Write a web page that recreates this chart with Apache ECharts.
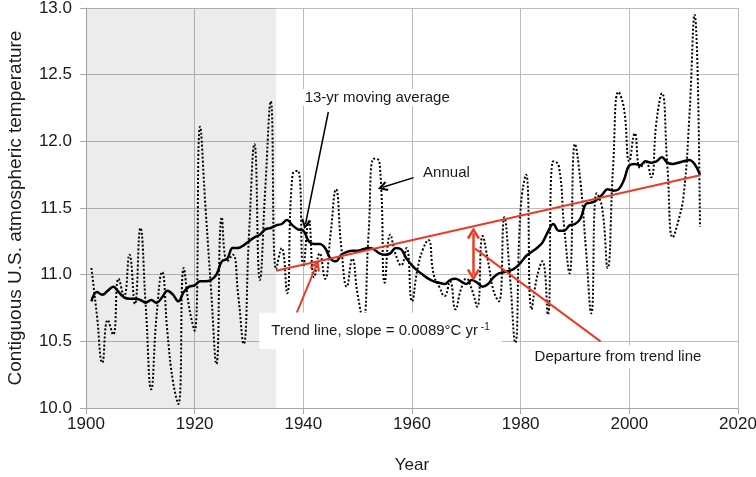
<!DOCTYPE html>
<html><head><meta charset="utf-8">
<script src="https://cdn.jsdelivr.net/npm/echarts@6/dist/echarts.min.js"></script>
<style>html,body{margin:0;padding:0;background:#fff}#c{width:756px;height:477px}</style>
</head><body><div id="c"></div>
<script>
const years = [1901,1902,1903,1904,1905,1906,1907,1908,1909,1910,
1911,1912,1913,1914,1915,1916,1917,1918,1919,1920,
1921,1922,1923,1924,1925,1926,1927,1928,1929,1930,
1931,1932,1933,1934,1935,1936,1937,1938,1939,1940,
1941,1942,1943,1944,1945,1946,1947,1948,1949,1950,
1951,1952,1953,1954,1955,1956,1957,1958,1959,1960,
1961,1962,1963,1964,1965,1966,1967,1968,1969,1970,
1971,1972,1973,1974,1975,1976,1977,1978,1979,1980,
1981,1982,1983,1984,1985,1986,1987,1988,1989,1990,
1991,1992,1993,1994,1995,1996,1997,1998,1999,2000,
2001,2002,2003,2004,2005,2006,2007,2008,2009,2010,
2011,2012,2013];
const annual = [11.05,10.70,10.34,10.66,10.55,10.97,10.84,11.15,10.78,11.35,
10.76,10.14,10.70,11.02,10.56,10.20,10.03,11.05,10.75,10.58,
12.11,11.50,10.90,10.33,11.43,11.10,11.15,10.85,10.48,11.30,
11.98,10.96,11.65,12.30,11.04,11.20,10.86,11.75,11.78,11.06,
11.40,10.98,11.16,10.97,11.30,11.64,11.20,10.91,11.12,10.85,
10.66,11.30,11.87,11.85,10.94,11.30,11.15,11.07,11.20,10.80,
11.04,11.19,11.26,11.00,10.91,10.84,10.95,10.74,10.89,10.97,
10.89,10.76,11.29,11.10,10.88,10.80,11.43,11.00,10.49,11.50,
11.75,10.74,10.98,11.10,10.70,11.85,11.82,11.36,11.01,11.98,
11.70,11.20,10.71,11.61,11.50,11.05,11.80,12.37,12.25,11.85,
12.06,11.80,11.85,11.73,12.15,12.36,11.81,11.28,11.40,11.60,
12.15,12.95,11.36];
const movingAvg13 = [10.80,10.87,10.85,10.88,10.91,10.87,10.83,10.82,10.82,10.81,
10.79,10.81,10.79,10.83,10.88,10.85,10.80,10.87,10.91,10.92,
10.95,10.95,10.96,11.00,11.10,11.12,11.20,11.20,11.22,11.25,
11.28,11.30,11.34,11.35,11.37,11.38,11.41,11.37,11.34,11.33,
11.25,11.23,11.23,11.20,11.12,11.10,11.15,11.17,11.18,11.18,
11.19,11.20,11.19,11.16,11.15,11.16,11.20,11.19,11.12,11.07,
11.03,11.00,10.97,10.95,10.94,10.93,10.96,10.97,10.95,10.93,
10.96,10.94,10.91,10.93,10.98,11.01,11.02,11.03,11.05,11.09,
11.14,11.17,11.20,11.24,11.32,11.38,11.33,11.33,11.37,11.38,
11.42,11.53,11.54,11.56,11.60,11.64,11.63,11.64,11.71,11.82,
11.83,11.82,11.85,11.84,11.85,11.88,11.84,11.83,11.84,11.85,
11.86,11.83,11.75];
const trendYears = [1935, 2013];
const trendValues = [11.03, 11.745];
const shadeYears = [1900, 1935];
const xTicks = [1900, 1920, 1940, 1960, 1980, 2000, 2020];
const yTicks = [10.0, 10.5, 11.0, 11.5, 12.0, 12.5, 13.0];

const RED = '#ec3b24';
const FONT = '"Liberation Sans", Arial, Helvetica, sans-serif';
const chev = 'path://M5,0 L10,8 L8.4,9.2 L5,3.6 L1.6,9.2 L0,8 Z';

const chart = echarts.init(document.getElementById('c'), null, {renderer: 'canvas'});
const pairs = (xs, ys) => xs.map((x, i) => [x, ys[i]]);

function textPoint(coord, formatter, extra) {
  return {
    coord: coord,
    symbol: 'rect', symbolSize: 1,
    itemStyle: {color: 'rgba(0,0,0,0)'},
    label: Object.assign({
      show: true, position: 'right', distance: 0,
      formatter: formatter, color: '#1a1a1a', fontSize: 15, fontFamily: FONT
    }, extra || {})
  };
}

const option = {
  animation: false,
  textStyle: {fontFamily: FONT},
  grid: {left: 86, right: 18, top: 8, bottom: 69, containLabel: false, outerBoundsMode: 'none'},
  xAxis: {
    type: 'value', min: xTicks[0], max: xTicks[xTicks.length - 1],
    interval: xTicks[1] - xTicks[0],
    name: 'Year', nameLocation: 'middle', nameGap: 49,
    nameTextStyle: {fontSize: 17, color: '#1a1a1a', fontFamily: FONT},
    axisLine: {show: true, lineStyle: {color: '#a9a9a9', width: 1}},
    axisTick: {show: true, length: 6, lineStyle: {color: '#a9a9a9'}},
    axisLabel: {fontSize: 17, color: '#1a1a1a', margin: 8, fontFamily: FONT,
      formatter: v => String(v)},
    splitLine: {show: true, lineStyle: {color: '#bdbdbd', width: 1}}
  },
  yAxis: {
    type: 'value', min: yTicks[0], max: yTicks[yTicks.length - 1],
    interval: yTicks[1] - yTicks[0],
    name: 'Contiguous U.S. atmospheric temperature', nameLocation: 'middle', nameGap: 61,
    nameTextStyle: {fontSize: 19, color: '#1a1a1a', fontFamily: FONT},
    axisLine: {show: true, lineStyle: {color: '#a9a9a9', width: 1}},
    axisTick: {show: true, length: 6, lineStyle: {color: '#a9a9a9'}},
    axisLabel: {fontSize: 17, color: '#1a1a1a', margin: 14, fontFamily: FONT,
      formatter: v => v.toFixed(1)},
    splitLine: {show: true, lineStyle: {color: '#bdbdbd', width: 1}}
  },
  series: [
    {
      name: 'Annual', type: 'line', data: pairs(years, annual),
      showSymbol: false, smooth: 0.5, z: 3,
      lineStyle: {type: 'dotted', width: 2, color: '#000'},
      markArea: {
        silent: true,
        itemStyle: {color: 'rgba(0,0,0,0.075)'},
        data: [[{xAxis: shadeYears[0]}, {xAxis: shadeYears[1]}]]
      }
    },
    {
      name: '13-yr moving average', type: 'line', data: pairs(years, movingAvg13),
      showSymbol: false, smooth: 0.4, z: 4,
      lineStyle: {type: 'solid', width: 2.5, color: '#000'}
    },
    {
      name: 'Trend', type: 'line', data: pairs(trendYears, trendValues),
      showSymbol: false, z: 5,
      lineStyle: {type: 'solid', width: 2, color: RED},
      markLine: {
        silent: true, animation: false,
        symbol: ['none', chev], symbolSize: [10, 10],
        label: {show: false},
        data: [
          [{coord: [1944.6, 12.22], lineStyle: {color: '#000', width: 1.5, type: 'solid'}, symbol: 'none'},
           {coord: [1940.4, 11.38], symbol: chev, symbolSize: [10, 10]}],
          [{coord: [1960.3, 11.728], lineStyle: {color: '#000', width: 1.5, type: 'solid'}, symbol: 'none'},
           {coord: [1954.6, 11.655], symbol: chev, symbolSize: [10, 10]}],
          [{coord: [1938.8, 10.715], lineStyle: {color: RED, width: 2, type: 'solid'}, symbol: 'none'},
           {coord: [1942.4, 11.07], symbol: chev, symbolSize: [11, 11]}],
          [{coord: [1971.6, 11.195], lineStyle: {color: RED, width: 2, type: 'solid'}, symbol: 'none'},
           {coord: [1994.7, 10.50], symbol: 'none'}],
          [{coord: [1971.3, 11.31], lineStyle: {color: RED, width: 2.5, type: 'solid'}, symbol: chev, symbolSize: [13, 12]},
           {coord: [1971.3, 11.0], symbol: chev, symbolSize: [13, 12]}]
        ]
      },
      markPoint: {
        silent: true, animation: false,
        data: [
          textPoint([1939.6, 12.328], '13-yr moving average', {backgroundColor: '#fff', padding: [1, 3]}),
          textPoint([1961.95, 11.765], 'Annual'),
          textPoint([1931.8, 10.58], '{a|Trend line, slope = 0.0089°C yr}{s| -1}',
            {backgroundColor: '#fff', padding: [10, 12],
             rich: {a: {fontSize: 15, color: '#1a1a1a', fontFamily: FONT},
                    s: {fontSize: 10, color: '#1a1a1a', fontFamily: FONT, verticalAlign: 'top', padding: [0, 0, 6, 0]}}}),
          textPoint([1981.0, 10.385], 'Departure from trend line', {backgroundColor: '#fff', padding: [4, 8]})
        ]
      }
    }
  ]
};
chart.setOption(option);
</script>
</body></html>
